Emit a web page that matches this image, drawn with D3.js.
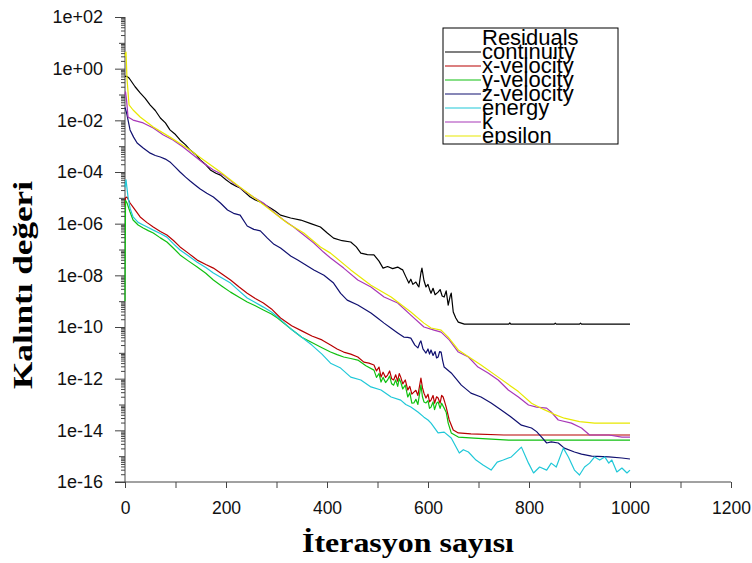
<!DOCTYPE html>
<html>
<head>
<meta charset="utf-8">
<script src="https://cdn.jsdelivr.net/npm/d3@7"></script>
<style>
  body { margin: 0; background: #fff; }
  svg { display: block; }
</style>
</head>
<body>
<svg id="chart" width="752" height="563"></svg>
<script>
// residual history, [iteration, log10(residual)]
const continuity = [[0,-0.30],[4,-0.30],[8,-0.36],[20,-0.70],[30,-0.94],[40,-1.15],[50,-1.41],[60,-1.62],[70,-1.91],[80,-2.10],[89,-2.37],[100,-2.55],[109,-2.76],[120,-2.95],[129,-3.15],[140,-3.32],[149,-3.53],[160,-3.72],[169,-3.92],[180,-4.05],[189,-4.12],[200,-4.30],[209,-4.43],[220,-4.55],[228,-4.62],[238,-4.80],[248,-4.97],[258,-5.08],[268,-5.16],[278,-5.28],[288,-5.39],[298,-5.52],[308,-5.67],[328,-5.78],[348,-5.86],[368,-6.00],[387,-6.13],[400,-6.35],[413,-6.56],[430,-6.66],[447,-6.71],[458,-6.90],[467,-7.14],[480,-7.20],[493,-7.21],[503,-7.45],[511,-7.72],[520,-7.66],[530,-7.74],[540,-7.68],[546,-7.75],[550,-7.79],[556,-8.05],[562,-8.30],[566,-8.15],[570,-8.35],[576,-8.26],[580,-8.40],[582,-8.45],[586,-7.90],[588,-7.72],[592,-8.20],[596,-8.45],[600,-8.35],[604,-8.60],[606,-8.69],[610,-8.50],[614,-8.75],[620,-8.65],[624,-8.55],[628,-8.80],[632,-8.84],[636,-8.60],[640,-9.15],[644,-8.80],[646,-8.69],[650,-9.42],[655,-9.65],[660,-9.81],[672,-9.89],[691,-9.89],[760,-9.89],[762,-9.84],[764,-9.89],[850,-9.89],[852,-9.85],[854,-9.89],[900,-9.89],[902,-9.85],[904,-9.89],[1000,-9.89]];

const xVelocity = [[0,-5.3],[1,-5.0],[4,-4.97],[10,-5.2],[16,-5.36],[30,-5.74],[43,-5.95],[56,-6.13],[70,-6.30],[83,-6.44],[96,-6.65],[109,-6.90],[126,-7.15],[143,-7.41],[160,-7.58],[175,-7.72],[192,-7.95],[209,-8.18],[226,-8.45],[242,-8.69],[258,-8.90],[274,-9.07],[290,-9.30],[308,-9.65],[330,-9.95],[350,-10.15],[370,-10.35],[390,-10.50],[407,-10.70],[420,-10.85],[433,-10.97],[447,-11.05],[461,-11.16],[473,-11.36],[483,-11.40],[493,-11.47],[498,-11.70],[503,-11.55],[507,-11.94],[511,-11.75],[516,-11.95],[520,-11.86],[524,-11.70],[528,-12.00],[532,-12.05],[536,-11.85],[540,-12.10],[543,-11.80],[546,-11.94],[550,-12.20],[555,-12.05],[560,-12.44],[564,-12.30],[568,-12.60],[572,-12.52],[576,-12.45],[580,-12.65],[584,-12.20],[586,-11.98],[589,-12.35],[592,-12.56],[596,-12.75],[600,-12.60],[603,-12.90],[606,-12.83],[610,-12.65],[613,-12.95],[617,-12.70],[620,-12.75],[624,-12.95],[627,-12.65],[630,-12.71],[633,-12.90],[636,-13.10],[642,-13.60],[650,-13.99],[660,-14.10],[685,-14.14],[750,-14.18],[1000,-14.18]];

const yVelocity = [[0,-9.0],[1,-5.1],[4,-5.2],[10,-5.55],[16,-5.86],[26,-6.05],[36,-6.17],[46,-6.27],[56,-6.36],[70,-6.55],[83,-6.71],[96,-6.95],[109,-7.21],[126,-7.45],[143,-7.68],[160,-7.92],[175,-8.18],[192,-8.42],[209,-8.65],[226,-8.85],[242,-9.03],[258,-9.18],[274,-9.34],[290,-9.50],[302,-9.65],[330,-10.10],[350,-10.40],[370,-10.60],[390,-10.80],[407,-10.97],[420,-11.07],[433,-11.16],[447,-11.22],[461,-11.28],[477,-11.50],[493,-11.67],[498,-11.95],[503,-11.80],[507,-12.13],[511,-11.95],[516,-12.15],[520,-12.05],[524,-11.90],[528,-12.20],[532,-12.25],[536,-12.05],[540,-12.30],[543,-12.00],[546,-12.13],[550,-12.40],[555,-12.25],[560,-12.71],[564,-12.55],[568,-12.95],[572,-12.94],[576,-12.80],[580,-13.00],[584,-12.50],[586,-12.25],[589,-12.70],[592,-12.90],[596,-12.94],[600,-12.85],[603,-13.15],[606,-13.10],[610,-12.90],[613,-13.20],[617,-12.95],[620,-12.90],[624,-13.15],[627,-12.95],[632,-13.14],[636,-13.30],[640,-13.72],[646,-14.10],[660,-14.26],[691,-14.30],[760,-14.38],[1000,-14.38]];

const zVelocity = [[0,-1.5],[3,-1.7],[10,-2.37],[17,-2.65],[24,-2.88],[36,-3.07],[50,-3.27],[60,-3.36],[70,-3.42],[80,-3.50],[89,-3.61],[100,-3.82],[109,-4.00],[120,-4.20],[129,-4.35],[140,-4.52],[149,-4.66],[162,-4.82],[175,-4.97],[189,-5.20],[203,-5.47],[215,-5.60],[228,-5.67],[242,-6.09],[255,-6.22],[268,-6.28],[282,-6.56],[295,-6.80],[308,-6.94],[328,-7.25],[342,-7.41],[358,-7.60],[374,-7.79],[394,-8.00],[413,-8.30],[427,-8.70],[440,-8.96],[461,-9.15],[474,-9.30],[487,-9.46],[500,-9.65],[513,-9.85],[527,-10.05],[540,-10.23],[552,-10.39],[560,-10.40],[566,-10.43],[574,-10.70],[580,-10.81],[584,-10.60],[586,-10.54],[590,-10.85],[596,-11.01],[600,-10.85],[603,-11.05],[606,-10.89],[610,-11.10],[614,-10.95],[617,-11.20],[620,-11.16],[623,-10.95],[626,-10.97],[629,-11.30],[632,-11.55],[646,-11.78],[666,-12.25],[685,-12.56],[705,-12.71],[725,-12.94],[745,-13.21],[765,-13.49],[785,-13.80],[805,-13.91],[815,-14.05],[825,-14.26],[835,-14.49],[844,-14.45],[858,-14.49],[870,-14.69],[890,-14.84],[904,-14.92],[924,-15.00],[958,-15.03],[984,-15.07],[1000,-15.11]];

const energy = [[0,-4.6],[2,-4.3],[6,-4.97],[10,-5.4],[16,-5.74],[26,-5.95],[36,-6.05],[46,-6.15],[56,-6.25],[70,-6.38],[83,-6.52],[96,-6.78],[109,-7.02],[126,-7.25],[143,-7.49],[160,-7.70],[175,-7.91],[192,-8.10],[209,-8.30],[226,-8.60],[242,-8.88],[258,-9.05],[274,-9.23],[290,-9.42],[302,-9.61],[330,-10.10],[350,-10.40],[370,-10.70],[390,-11.05],[407,-11.40],[427,-11.59],[447,-11.94],[467,-12.05],[487,-12.32],[507,-12.44],[527,-12.71],[546,-12.83],[556,-13.00],[566,-13.10],[580,-13.29],[592,-13.49],[600,-13.60],[606,-13.72],[620,-14.10],[632,-14.07],[646,-14.30],[662,-14.88],[670,-14.75],[680,-14.84],[695,-15.15],[709,-15.34],[725,-15.54],[737,-15.23],[749,-15.15],[765,-15.03],[785,-14.65],[799,-15.27],[809,-15.65],[821,-15.42],[835,-15.54],[844,-15.27],[854,-15.42],[868,-14.69],[878,-15.03],[890,-15.54],[900,-15.73],[910,-15.42],[920,-15.27],[930,-15.03],[940,-15.15],[950,-15.03],[958,-15.27],[964,-15.15],[974,-15.61],[984,-15.46],[994,-15.65],[1000,-15.54]];

const k = [[0,-1.0],[1,-0.9],[3,-1.2],[6,-1.87],[16,-1.99],[36,-2.10],[56,-2.30],[76,-2.57],[95,-2.76],[115,-3.03],[135,-3.34],[155,-3.65],[175,-3.92],[195,-4.12],[215,-4.43],[234,-4.70],[254,-4.97],[274,-5.20],[294,-5.55],[314,-5.86],[334,-6.13],[354,-6.44],[374,-6.75],[393,-7.10],[407,-7.33],[433,-7.72],[461,-8.18],[487,-8.45],[513,-8.84],[540,-9.07],[566,-9.54],[592,-10.00],[612,-10.12],[626,-10.20],[642,-10.50],[660,-10.97],[680,-11.16],[699,-11.55],[719,-11.78],[739,-12.05],[759,-12.44],[779,-12.71],[799,-13.02],[815,-13.10],[835,-13.14],[844,-13.29],[858,-13.60],[884,-13.72],[904,-13.91],[920,-14.18],[958,-14.18],[984,-14.26],[1000,-14.26]];

const epsilon = [[0,0.5],[2,0.64],[4,-0.4],[8,-1.4],[16,-1.60],[30,-1.87],[56,-2.26],[89,-2.65],[123,-3.07],[155,-3.53],[189,-4.00],[222,-4.50],[254,-4.97],[288,-5.47],[322,-5.98],[354,-6.36],[387,-6.90],[407,-7.14],[447,-7.79],[487,-8.38],[527,-8.84],[566,-9.42],[592,-9.85],[606,-10.04],[626,-10.12],[640,-10.39],[660,-10.89],[705,-11.47],[739,-11.94],[779,-12.50],[805,-12.95],[830,-13.20],[850,-13.38],[870,-13.53],[900,-13.66],[930,-13.72],[1000,-13.72]];

const seriesNames = ["continuity", "x-velocity", "y-velocity", "z-velocity", "energy", "k", "epsilon"];
const seriesData = [continuity, xVelocity, yVelocity, zVelocity, energy, k, epsilon];
const seriesColors = ["#000000", "#b80000", "#10c010", "#101070", "#20c8d8", "#a838b8", "#e8e800"];

const xTicks = [0, 200, 400, 600, 800, 1000, 1200];
const xTickLabels = ["0", "200", "400", "600", "800", "1000", "1200"];
const xMinorTicks = [100, 300, 500, 700, 900, 1100];
const yTicks = [1e2, 1e0, 1e-2, 1e-4, 1e-6, 1e-8, 1e-10, 1e-12, 1e-14, 1e-16];
const yTickLabels = ["1e+02", "1e+00", "1e-02", "1e-04", "1e-06", "1e-08", "1e-10", "1e-12", "1e-14", "1e-16"];

const svg = d3.select("#chart");
const sans = "'Liberation Sans', Arial, sans-serif";
const serif = "'Liberation Serif', 'Times New Roman', serif";

const x = d3.scaleLinear().domain([0, 1200]).range([125, 731]);
const y = d3.scaleLog().domain([1e-16, 1e2]).range([482, 17]);

// minor log ticks 2..9 for every decade
const yMinor = [];
for (let e = -16; e < 2; e++) {
    for (let m = 2; m <= 9; m++) yMinor.push(m * Math.pow(10, e));
}
const yMid = d3.range(-15, 2, 2).map(e => Math.pow(10, e));

// Axes
const axisColor = "#444";

svg.append("g")
    .attr("transform", "translate(125,0)")
    .call(d3.axisLeft(y).tickValues(yMinor).tickSize(4).tickFormat(""))
    .call(g => g.select(".domain").remove())
    .selectAll("line").attr("stroke", axisColor);

svg.append("g")
    .attr("transform", "translate(125,0)")
    .call(d3.axisLeft(y).tickValues(yMid).tickSize(6).tickFormat(""))
    .call(g => g.select(".domain").remove())
    .selectAll("line").attr("stroke", axisColor);

const yAxis = svg.append("g")
    .attr("transform", "translate(125,0)")
    .call(d3.axisLeft(y).tickValues(yTicks).tickSize(10).tickPadding(12)
        .tickFormat((d, i) => yTickLabels[i]));
yAxis.select(".domain").attr("stroke", axisColor).attr("d", `M0,${y(1e2)}V${y(1e-16)}`);
yAxis.selectAll("line").attr("stroke", axisColor);
yAxis.selectAll("text")
    .attr("font-family", sans)
    .attr("font-size", 18)
    .attr("fill", "#111");

svg.append("g")
    .attr("transform", "translate(0,482)")
    .call(d3.axisBottom(x).tickValues(xMinorTicks).tickSize(6).tickFormat(""))
    .call(g => g.select(".domain").remove())
    .selectAll("line").attr("stroke", axisColor);

const xAxis = svg.append("g")
    .attr("transform", "translate(0,482)")
    .call(d3.axisBottom(x).tickValues(xTicks).tickSize(6).tickPadding(14)
        .tickFormat((d, i) => xTickLabels[i]));
xAxis.select(".domain").attr("stroke", axisColor).attr("d", `M${x(0) - 10},0H${x(1200)}`);
xAxis.selectAll("line").attr("stroke", axisColor);
xAxis.selectAll("text")
    .attr("font-family", sans)
    .attr("font-size", 17.5)
    .attr("fill", "#111");

// Lines
const line = d3.line()
    .x(d => x(d[0]))
    .y(d => y(Math.pow(10, d[1])));

svg.append("g")
    .selectAll("path")
    .data(seriesData)
    .join("path")
    .attr("d", line)
    .attr("fill", "none")
    .attr("stroke", (d, i) => seriesColors[i])
    .attr("stroke-width", 1.2)
    .attr("stroke-linejoin", "round");

// Legend
const legend = svg.append("g");
legend.append("clipPath").attr("id", "legclip")
    .append("rect").attr("x", 443).attr("y", 28).attr("width", 175).attr("height", 116);

const legBody = legend.append("g").attr("clip-path", "url(#legclip)");
legBody.append("rect")
    .attr("x", 443).attr("y", 28).attr("width", 175).attr("height", 116)
    .attr("fill", "#fff");

legBody.append("text")
    .attr("x", 482).attr("y", 45)
    .attr("font-family", sans).attr("font-size", 22)
    .text("Residuals");

seriesNames.forEach((name, i) => {
    const base = 59 + i * 14;
    legBody.append("line")
        .attr("x1", 445).attr("x2", 481)
        .attr("y1", base - 7).attr("y2", base - 7)
        .attr("stroke", seriesColors[i]).attr("stroke-width", 1.2);
    legBody.append("text")
        .attr("x", 482).attr("y", base)
        .attr("font-family", sans).attr("font-size", 22)
        .text(name);
});

legend.append("rect")
    .attr("x", 443).attr("y", 28).attr("width", 175).attr("height", 116)
    .attr("fill", "none").attr("stroke", "#000").attr("stroke-width", 1);

// Axis titles
svg.append("text")
    .attr("x", 408).attr("y", 552)
    .attr("text-anchor", "middle")
    .attr("font-family", serif).attr("font-weight", "bold").attr("font-size", 28)
    .attr("textLength", 212).attr("lengthAdjust", "spacingAndGlyphs")
    .text("İterasyon sayısı");

svg.append("text")
    .attr("transform", "translate(32,285) rotate(-90)")
    .attr("text-anchor", "middle")
    .attr("font-family", serif).attr("font-weight", "bold").attr("font-size", 27)
    .attr("textLength", 208).attr("lengthAdjust", "spacingAndGlyphs")
    .text("Kalıntı değeri");
</script>
</body>
</html>
